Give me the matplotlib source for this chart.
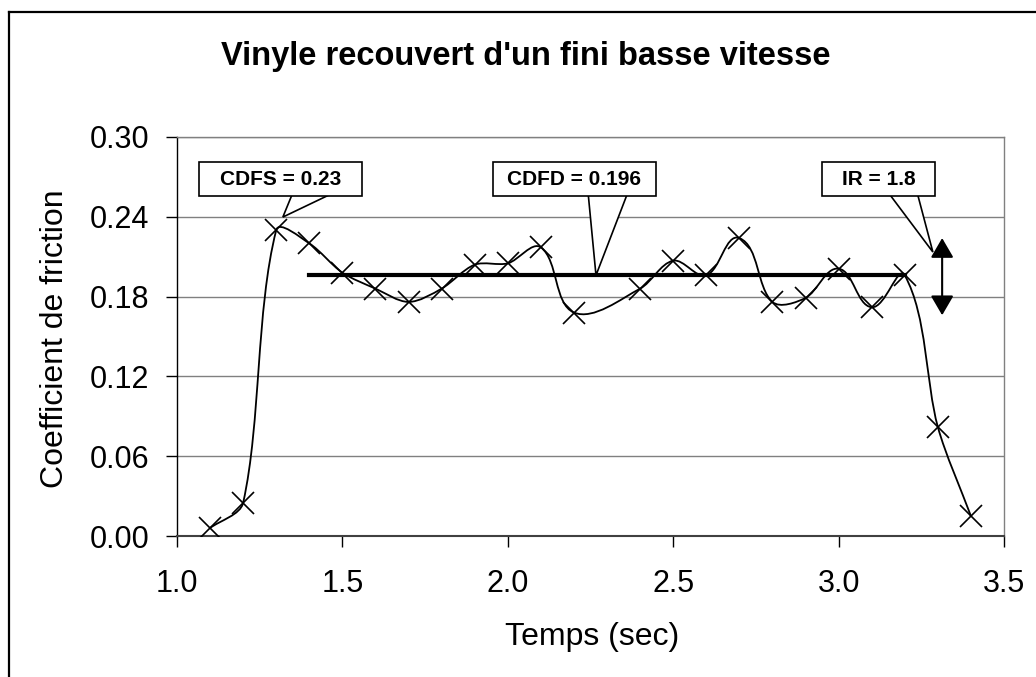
import numpy as np
import matplotlib
matplotlib.use("Agg")
import matplotlib.pyplot as plt
from matplotlib.path import Path
from matplotlib.patches import PathPatch, Polygon, Rectangle
from matplotlib.lines import Line2D

plt.rcParams['font.family'] = ['Liberation Sans', 'DejaVu Sans']

# donnees
temps = [1.1, 1.2, 1.3, 1.4, 1.5, 1.6, 1.7, 1.8, 1.9, 2.0, 2.1, 2.2,
         2.4, 2.5, 2.6, 2.7, 2.8, 2.9, 3.0, 3.1, 3.2, 3.3, 3.4]
friction = [0.006, 0.025, 0.230, 0.220, 0.198, 0.186, 0.176, 0.186, 0.204, 0.205, 0.217, 0.168,
            0.186, 0.207, 0.196, 0.224, 0.176, 0.179, 0.201, 0.172, 0.196, 0.082, 0.015]
cdfd = 0.196
cdfd_debut, cdfd_fin = 1.4, 3.2
ir_haut, ir_bas = 0.224, 0.166
labels = ["CDFS = 0.23", "CDFD = 0.196", "IR = 1.8"]

fig = plt.figure(figsize=(10.36, 6.77), dpi=100)
ax = fig.add_axes([177/1036, 1-536/677, (1004-177)/1036, (536-137)/677])

# courbe lissee (bezier facon Excel, calculee a l'echelle de l'ecran)
sx, sy = 331.0, 1330.0
pts = np.column_stack([np.array(temps)*sx, np.array(friction)*sy])
n = len(pts)
k = 0.3
verts = [pts[0]]
codes = [Path.MOVETO]
for i in range(n-1):
    p0 = pts[max(i-1, 0)]
    p1 = pts[i]
    p2 = pts[i+1]
    p3 = pts[min(i+2, n-1)]
    d = np.linalg.norm(p2 - p1)
    t1 = (p2 - p0)/np.linalg.norm(p2 - p0)
    t2 = (p3 - p1)/np.linalg.norm(p3 - p1)
    c1 = p1 + t1*d*k
    c2 = p2 - t2*d*k
    verts += [c1, c2, p2]
    codes += [Path.CURVE4]*3
verts = np.array(verts)/[sx, sy]
ax.add_patch(PathPatch(Path(verts, codes), fill=False, lw=1.3, color='k', zorder=3))
ax.plot(temps, friction, ls='none', marker='x', ms=16, mew=1.2, color='k', zorder=4)

# ligne CDFD
ax.plot([cdfd_debut, cdfd_fin], [cdfd, cdfd], color='k', lw=3, zorder=2)

# fleche IR
ax.annotate('', xy=(3.313, ir_haut), xytext=(3.313, ir_bas),
            arrowprops=dict(arrowstyle='<|-|>,head_length=0.6,head_width=0.35',
                            mutation_scale=20, lw=1.5, color='k',
                            shrinkA=0, shrinkB=0), zorder=5)

# bulles
bulles = [
    (labels[0], (1.0665, 1.5593), (1.351, 1.478), (1.320, 0.2398)),
    (labels[1], (1.955, 2.448), (2.2425, 2.3634), (2.2666, 0.196)),
    (labels[2], (2.950, 3.2915), (3.149, 3.237), (3.285, 0.2135)),
]
yb0, yb1 = 0.2556, 0.2812
for txt, (x0, x1), (b0, b1), tip in bulles:
    ax.add_patch(Polygon([(b0, yb0+0.003), (b1, yb0+0.003), tip], closed=True,
                         fc='white', ec='k', lw=1.2, zorder=6, clip_on=False))
    ax.add_patch(Rectangle((x0, yb0), x1-x0, yb1-yb0, fc='white', ec='k',
                           lw=1.2, zorder=7, clip_on=False))
    ax.text((x0+x1)/2, (yb0+yb1)/2, txt, ha='center', va='center',
            fontsize=15, fontweight='bold', zorder=8)

ax.set_xlim(1.0, 3.5)
ax.set_ylim(0.0, 0.30)
ax.set_xticks([1.0, 1.5, 2.0, 2.5, 3.0, 3.5])
ax.set_xticklabels(['1.0', '1.5', '2.0', '2.5', '3.0', '3.5'])
ax.set_yticks([0.0, 0.06, 0.12, 0.18, 0.24, 0.30])
ax.set_yticklabels(['0.00', '0.06', '0.12', '0.18', '0.24', '0.30'])
ax.tick_params(axis='both', labelsize=22, direction='out', length=8, width=1, color='k')
ax.tick_params(axis='x', pad=16)
ax.tick_params(axis='y', pad=12)
ax.grid(axis='y', color='#808080', lw=1)
ax.set_axisbelow(True)
for s in ['top', 'right']:
    ax.spines[s].set_color('#808080')
    ax.spines[s].set_linewidth(1)
ax.spines['left'].set_color('k')
ax.spines['left'].set_linewidth(1)
ax.spines['bottom'].set_color('#404040')
ax.spines['bottom'].set_linewidth(1.5)

fig.text(592/1036, 1-637/677, 'Temps (sec)', ha='center', va='center', fontsize=23)
fig.text(55/1036, 1-339/677, 'Coefficient de friction', ha='center', va='center',
         rotation=90, fontsize=23)
fig.text(526/1036, 1-57/677, "Vinyle recouvert d'un fini basse vitesse",
         ha='center', va='center', fontsize=23.5, fontweight='bold')

# cadre exterieur
fig.add_artist(Line2D([9/1036, 9/1036], [0, 1-12/677], color='k', lw=1.6,
                      transform=fig.transFigure))
fig.add_artist(Line2D([9/1036, 1], [1-12/677, 1-12/677], color='k', lw=1.6,
                      transform=fig.transFigure))

fig.savefig('out.png', dpi=100)
